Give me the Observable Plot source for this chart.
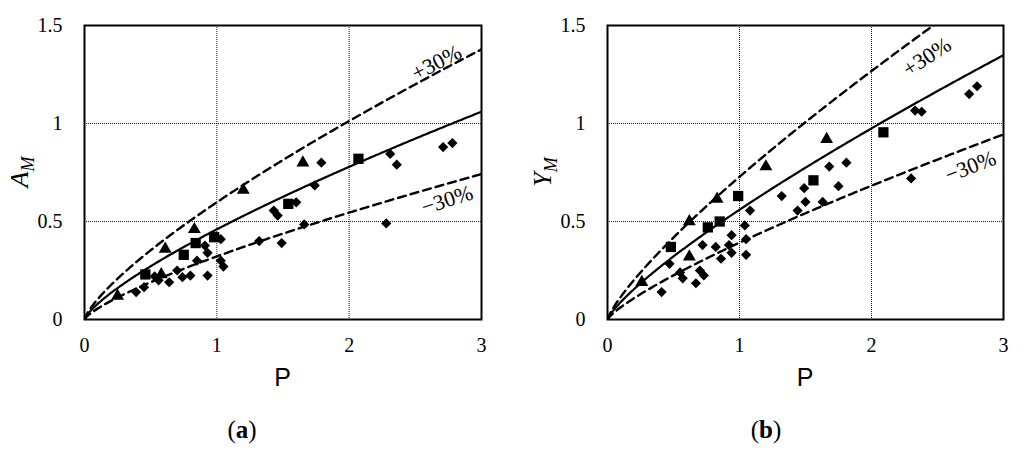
<!DOCTYPE html>
<html><head><meta charset="utf-8">
<script src="https://cdn.jsdelivr.net/npm/d3@7"></script>
<script src="https://cdn.jsdelivr.net/npm/@observablehq/plot@0.6"></script>
<style>
html,body{margin:0;padding:0;background:#fff;}
#wrap{display:flex;width:1024px;height:450px;}
#wrap svg{display:block;}
</style></head><body><div id="wrap"></div>
<script>
// ---------- data ----------
const xTicks = [0, 1, 2, 3];
const yTicks = [0, 0.5, 1, 1.5];

// panel (a): A_M vs P
const aTriangles = [[0.25,0.12],[0.58,0.23],[0.61,0.36],[0.83,0.46],[1.20,0.66],[1.65,0.80]];
const aSquares   = [[0.46,0.23],[0.75,0.33],[0.84,0.39],[0.98,0.42],[1.54,0.59],[2.07,0.82]];
const aDiamonds  = [[0.39,0.14],[0.45,0.165],[0.53,0.22],[0.56,0.20],[0.64,0.19],[0.70,0.25],[0.74,0.216],
                    [0.80,0.224],[0.85,0.30],[0.91,0.377],[0.93,0.34],[0.93,0.224],[1.03,0.41],[1.03,0.30],
                    [1.05,0.27],[1.32,0.40],[1.43,0.556],[1.46,0.53],[1.49,0.39],[1.60,0.598],[1.66,0.485],
                    [1.74,0.684],[1.79,0.80],[2.28,0.49],[2.31,0.845],[2.36,0.79],[2.71,0.88],[2.78,0.90]];
const aFit = {coef: 0.46, exp: 0.76};

// panel (b): Y_M vs P
const bTriangles = [[0.26,0.19],[0.62,0.32],[0.62,0.50],[0.83,0.615],[1.20,0.78],[1.66,0.92]];
const bSquares   = [[0.48,0.37],[0.76,0.47],[0.85,0.50],[0.99,0.63],[1.56,0.71],[2.09,0.955]];
const bDiamonds  = [[0.41,0.14],[0.47,0.284],[0.55,0.24],[0.57,0.21],[0.67,0.185],[0.70,0.25],[0.73,0.225],
                    [0.72,0.38],[0.82,0.37],[0.86,0.31],[0.92,0.38],[0.94,0.34],[0.94,0.43],[1.04,0.48],
                    [1.05,0.41],[1.05,0.33],[1.08,0.556],[1.32,0.63],[1.44,0.556],[1.49,0.67],[1.50,0.60],
                    [1.63,0.60],[1.68,0.78],[1.75,0.68],[1.81,0.80],[2.30,0.72],[2.33,1.066],[2.38,1.06],
                    [2.74,1.15],[2.80,1.19]];
const bFit = {coef: 0.56, exp: 0.80};

const bandFactors = [1.3, 0.7];
const bandLabels = ["+30%", "\u221230%"];

// ---------- drawing ----------
const serif = "'Liberation Serif', 'Times New Roman', serif";
const sans = "'Liberation Sans', Arial, sans-serif";

function panel({tri, sq, dia, fit, yName, caption, ml, mr, captionX, labels}) {
  const xs = d3.range(0, 3.0001, 0.01);
  const curve = k => xs.map(x => ({x, y: k * fit.coef * Math.pow(x, fit.exp)}));
  const svg = Plot.plot({
    width: 512, height: 450,
    marginLeft: ml, marginRight: mr, marginTop: 25, marginBottom: 131,
    style: {fontFamily: serif, fontSize: "20px", color: "#000", background: "#fff", overflow: "visible"},
    x: {domain: [0, 3], ticks: xTicks, tickFormat: d => String(d), tickSize: 0, tickPadding: 18, label: null},
    y: {domain: [0, 1.5], ticks: yTicks, tickFormat: d => String(d), tickSize: 0, tickPadding: 22, label: null},
    marks: [
      Plot.gridX([1, 2], {stroke: "#000", strokeOpacity: 0.9, strokeDasharray: "1,1", strokeWidth: 1}),
      Plot.gridY([0.5, 1], {stroke: "#000", strokeOpacity: 0.9, strokeDasharray: "1,1", strokeWidth: 1}),
      Plot.line(curve(bandFactors[0]), {x: "x", y: "y", stroke: "#000", strokeWidth: 2.4, strokeDasharray: "8,5", clip: true}),
      Plot.line(curve(bandFactors[1]), {x: "x", y: "y", stroke: "#000", strokeWidth: 2.4, strokeDasharray: "8,5", clip: true}),
      Plot.line(curve(1), {x: "x", y: "y", stroke: "#000", strokeWidth: 2.2, clip: true}),
      Plot.dot(dia, {x: d => d[0], y: d => d[1], symbol: "diamond2", r: 4.6, fill: "#000", stroke: "none"}),
      Plot.dot(sq, {x: d => d[0], y: d => d[1], symbol: "square", r: 5.8, fill: "#000", stroke: "none"}),
      Plot.dot(tri, {x: d => d[0], y: d => d[1], symbol: "triangle", r: 4.8, fill: "#000", stroke: "none"}),
      Plot.text(labels, {x: "x", y: "y", text: "text", rotate: "rotate", fontSize: 22, fontFamily: serif, fill: "#000"}),
      Plot.axisX({ticks: xTicks, tickFormat: d => String(d), tickSize: 0, tickPadding: 18, fontSize: 20, label: null}),
      Plot.axisY({ticks: yTicks, tickFormat: d => String(d), tickSize: 0, tickPadding: 22, fontSize: 20, label: null}),
      Plot.frame({stroke: "#000", strokeWidth: 2})
    ]
  });
  const s = d3.select(svg);
  const cx = ml + (512 - ml - mr) / 2;
  // x-axis title
  s.append("text").attr("x", cx).attr("y", 386).attr("text-anchor", "middle")
    .attr("font-family", sans).attr("font-size", 25).attr("fill", "#000").text("P");
  // y-axis title with subscript
  const yl = s.append("text").attr("transform", `translate(${ml - 56},172) rotate(-90)`)
    .attr("text-anchor", "middle").attr("font-family", serif).attr("font-style", "italic")
    .attr("font-size", 26).attr("fill", "#000");
  yl.append("tspan").text(yName);
  yl.append("tspan").attr("font-size", 18).attr("dy", 6).text("M");
  // caption
  const cap = s.append("text").attr("x", captionX).attr("y", 438).attr("text-anchor", "middle")
    .attr("font-family", serif).attr("font-size", 25).attr("fill", "#000");
  cap.append("tspan").text("(");
  cap.append("tspan").attr("font-weight", "bold").text(caption);
  cap.append("tspan").text(")");
  return svg;
}

const wrap = document.getElementById("wrap");
wrap.appendChild(panel({
  tri: aTriangles, sq: aSquares, dia: aDiamonds, fit: aFit, yName: "A", caption: "a",
  ml: 84, mr: 31, captionX: 242,
  labels: [{text: bandLabels[0], x: 2.66, y: 1.31, rotate: -27}, {text: bandLabels[1], x: 2.74, y: 0.61, rotate: -18}]
}));
wrap.appendChild(panel({
  tri: bTriangles, sq: bSquares, dia: bDiamonds, fit: bFit, yName: "Y", caption: "b",
  ml: 95, mr: 21, captionX: 254,
  labels: [{text: bandLabels[0], x: 2.42, y: 1.34, rotate: -33}, {text: bandLabels[1], x: 2.75, y: 0.78, rotate: -21}]
}));
</script></body></html>
